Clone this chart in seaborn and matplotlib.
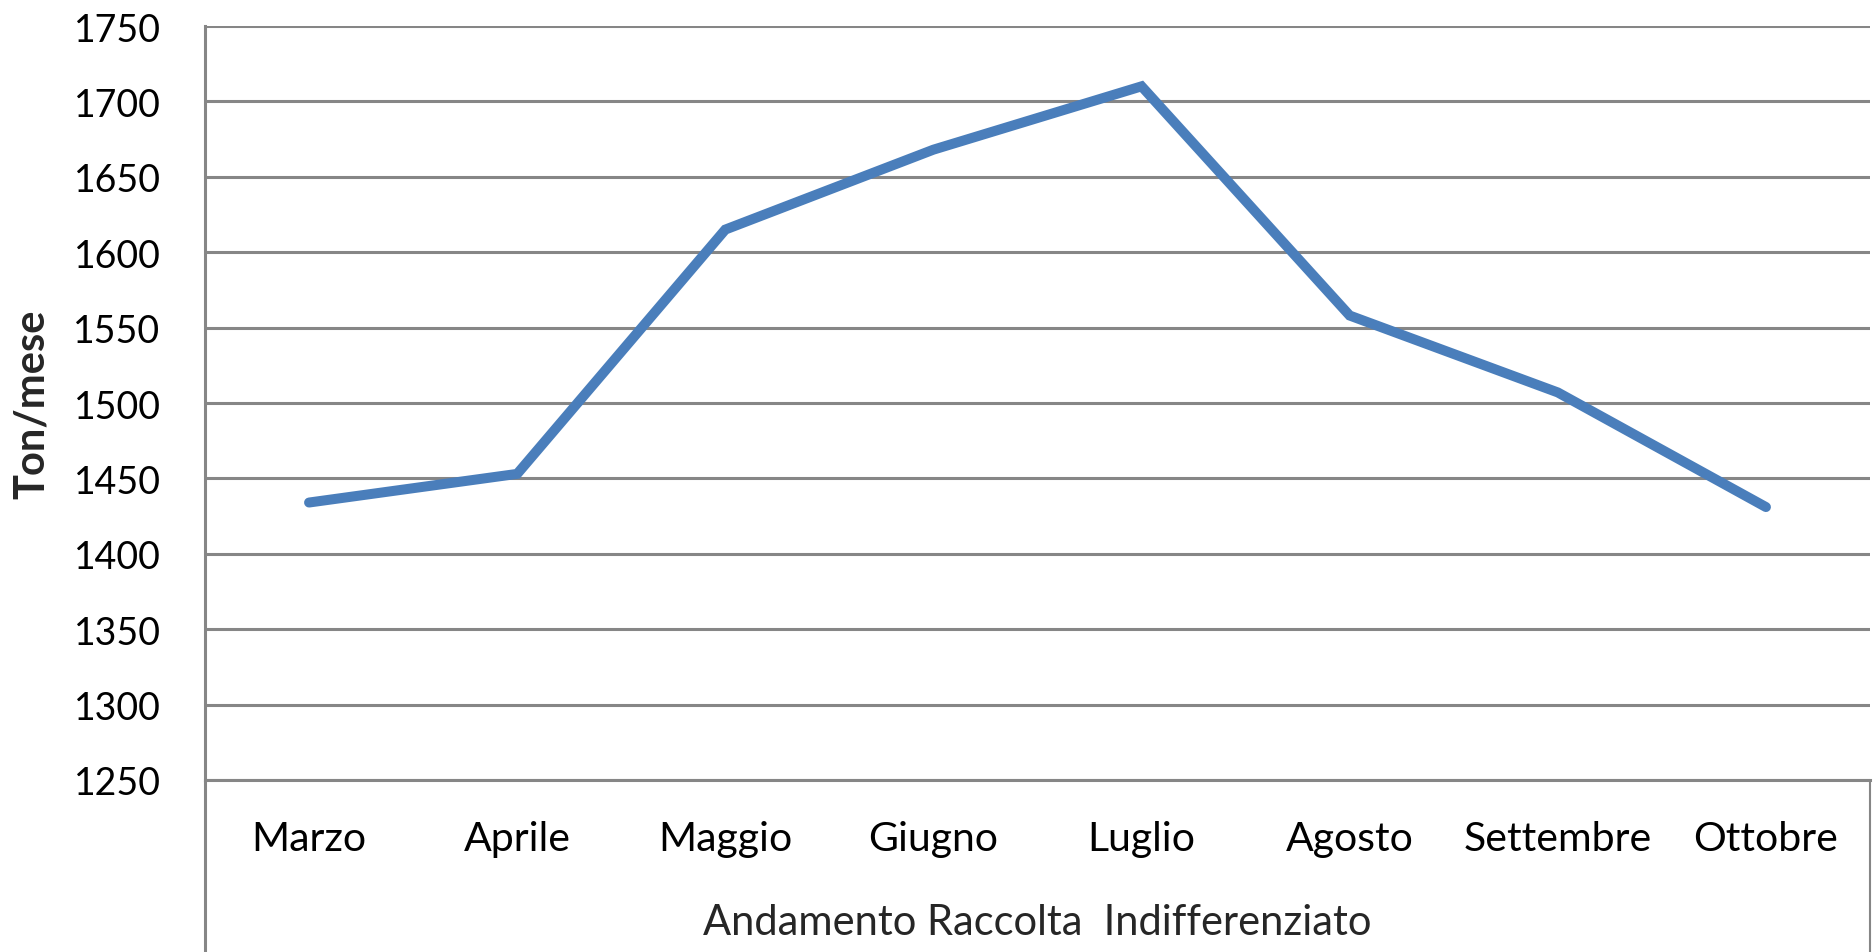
import matplotlib
matplotlib.use("Agg")
import matplotlib.pyplot as plt
import pandas as pd
import seaborn as sns

# data
mesi = ['Marzo', 'Aprile', 'Maggio', 'Giugno', 'Luglio', 'Agosto', 'Settembre', 'Ottobre']
tonnellate = [1434, 1453, 1615, 1668, 1710, 1558, 1507, 1431]
y_ticks = [1250, 1300, 1350, 1400, 1450, 1500, 1550, 1600, 1650, 1700, 1750]

df = pd.DataFrame({'mese': mesi, 'ton': tonnellate})

sns.set_style("white")
plt.rcParams['font.family'] = ['Lato', 'DejaVu Sans']

grey = '#868686'
blue = '#4A7EBB'

fig = plt.figure(figsize=(18.76, 9.53), dpi=100)
ax = fig.add_axes([205 / 1876, 1 - 781 / 953, (1870 - 205) / 1876, (781 - 27) / 953])

sns.lineplot(data=df, x='mese', y='ton', ax=ax, color=blue, linewidth=7.2,
             sort=False, solid_capstyle='round', solid_joinstyle='miter')

ax.set_xlim(-0.5, len(mesi) - 0.5)
ax.set_ylim(y_ticks[0], y_ticks[-1])
ax.set_yticks(y_ticks)
ax.yaxis.grid(True, color=grey, linewidth=2.2)
ax.xaxis.grid(False)

for side in ['top', 'right']:
    ax.spines[side].set_visible(False)
ax.spines['left'].set_color(grey)
ax.spines['left'].set_linewidth(2.2)
ax.spines['bottom'].set_color(grey)
ax.spines['bottom'].set_linewidth(2.2)

ax.tick_params(axis='y', length=0, pad=32, labelsize=27, labelcolor='black')
ax.tick_params(axis='x', length=0, pad=29, labelsize=29.5, labelcolor='black')

ax.set_ylabel('Ton/mese', fontsize=30, fontweight='bold', labelpad=16)
ax.set_xlabel('Andamento Raccolta  Indifferenziato', fontsize=30, labelpad=33)

# category-table borders below the plot area (Excel style)
ax.plot([0, 0], [0, -0.24], transform=ax.transAxes, color=grey, linewidth=2.2, clip_on=False)
ax.plot([1, 1], [0, -0.24], transform=ax.transAxes, color=grey, linewidth=1.5, clip_on=False)

fig.savefig('out.png', dpi=100)
